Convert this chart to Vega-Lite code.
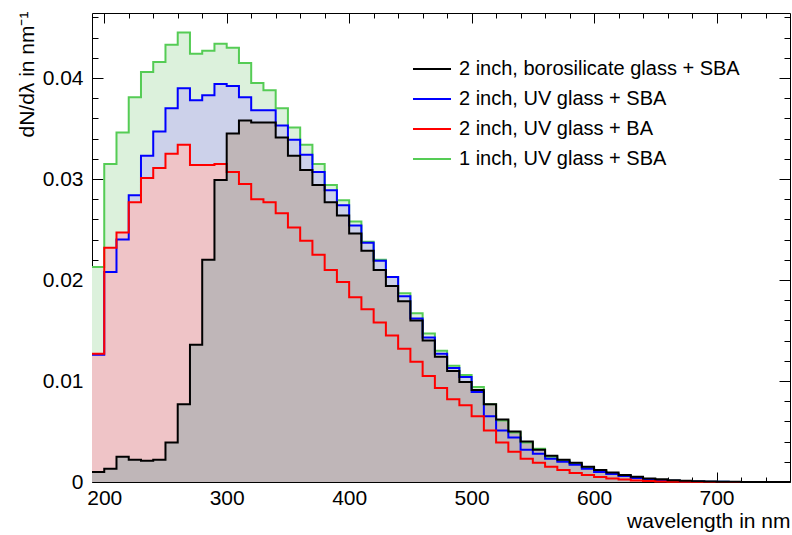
{
  "$schema": "https://vega.github.io/schema/vega-lite/v6.json",
  "width": 698,
  "height": 469,
  "autosize": {"type": "none"},
  "padding": {"left": 92, "top": 13, "right": 2, "bottom": 53},
  "background": "white",
  "config": {
    "view": {"stroke": "#000000", "strokeWidth": 1},
    "axis": {"grid": false, "domain": false, "labelFont": "Liberation Sans", "labelFontSize": 21, "labelColor": "#000000", "titleFont": "Liberation Sans", "titleFontSize": 21, "titleFontWeight": "normal", "titleColor": "#000000", "tickColor": "#000000", "tickWidth": 1}
  },
  "data": {"values": [
    {"x": 190, "k": 0.0010, "b": 0.0126, "r": 0.0127, "g": 0.0213},
    {"x": 200, "k": 0.0013, "b": 0.0208, "r": 0.0232, "g": 0.0315},
    {"x": 210, "k": 0.0025, "b": 0.0240, "r": 0.0247, "g": 0.0346},
    {"x": 220, "k": 0.0022, "b": 0.0284, "r": 0.0277, "g": 0.0381},
    {"x": 230, "k": 0.0021, "b": 0.0323, "r": 0.0301, "g": 0.0406},
    {"x": 240, "k": 0.0022, "b": 0.0347, "r": 0.0311, "g": 0.0416},
    {"x": 250, "k": 0.0039, "b": 0.0370, "r": 0.0325, "g": 0.0433},
    {"x": 260, "k": 0.0077, "b": 0.0390, "r": 0.0334, "g": 0.0445},
    {"x": 270, "k": 0.0136, "b": 0.0378, "r": 0.0314, "g": 0.0424},
    {"x": 280, "k": 0.0220, "b": 0.0383, "r": 0.0314, "g": 0.0427},
    {"x": 290, "k": 0.0299, "b": 0.0394, "r": 0.0315, "g": 0.0434},
    {"x": 300, "k": 0.0345, "b": 0.0392, "r": 0.0307, "g": 0.0430},
    {"x": 310, "k": 0.0358, "b": 0.0381, "r": 0.0295, "g": 0.0415},
    {"x": 320, "k": 0.0356, "b": 0.0368, "r": 0.0280, "g": 0.0395},
    {"x": 330, "k": 0.0356, "b": 0.0368, "r": 0.0277, "g": 0.0388},
    {"x": 340, "k": 0.0341, "b": 0.0353, "r": 0.0266, "g": 0.0370},
    {"x": 350, "k": 0.0323, "b": 0.0339, "r": 0.0252, "g": 0.0351},
    {"x": 360, "k": 0.0309, "b": 0.0324, "r": 0.0239, "g": 0.0334},
    {"x": 370, "k": 0.0294, "b": 0.0307, "r": 0.0225, "g": 0.0315},
    {"x": 380, "k": 0.0277, "b": 0.0289, "r": 0.0210, "g": 0.0294},
    {"x": 390, "k": 0.0264, "b": 0.0274, "r": 0.0198, "g": 0.0279},
    {"x": 400, "k": 0.0246, "b": 0.0254, "r": 0.0183, "g": 0.0258},
    {"x": 410, "k": 0.0229, "b": 0.0237, "r": 0.0171, "g": 0.0238},
    {"x": 420, "k": 0.0210, "b": 0.0219, "r": 0.0158, "g": 0.0220},
    {"x": 430, "k": 0.0194, "b": 0.0203, "r": 0.0145, "g": 0.0203},
    {"x": 440, "k": 0.0179, "b": 0.0184, "r": 0.0132, "g": 0.0187},
    {"x": 450, "k": 0.0160, "b": 0.0162, "r": 0.0119, "g": 0.0167},
    {"x": 460, "k": 0.0140, "b": 0.0143, "r": 0.0105, "g": 0.0147},
    {"x": 470, "k": 0.0124, "b": 0.0127, "r": 0.0093, "g": 0.0130},
    {"x": 480, "k": 0.0110, "b": 0.0113, "r": 0.0082, "g": 0.0115},
    {"x": 490, "k": 0.0099, "b": 0.0104, "r": 0.0076, "g": 0.0106},
    {"x": 500, "k": 0.0091, "b": 0.0089, "r": 0.0065, "g": 0.0094},
    {"x": 510, "k": 0.0077, "b": 0.0065, "r": 0.0051, "g": 0.0077},
    {"x": 520, "k": 0.0062, "b": 0.0051, "r": 0.0039, "g": 0.0061},
    {"x": 530, "k": 0.0050, "b": 0.0044, "r": 0.0030, "g": 0.0049},
    {"x": 540, "k": 0.0040, "b": 0.0032, "r": 0.0023, "g": 0.0039},
    {"x": 550, "k": 0.0032, "b": 0.0028, "r": 0.0019, "g": 0.0033},
    {"x": 560, "k": 0.0026, "b": 0.0023, "r": 0.0015, "g": 0.0025},
    {"x": 570, "k": 0.0022, "b": 0.0020, "r": 0.0012, "g": 0.0021},
    {"x": 580, "k": 0.0019, "b": 0.0017, "r": 0.0009, "g": 0.0018},
    {"x": 590, "k": 0.0015, "b": 0.0013, "r": 0.0007, "g": 0.0014},
    {"x": 600, "k": 0.0012, "b": 0.0010, "r": 0.0005, "g": 0.0011},
    {"x": 610, "k": 0.00095, "b": 0.0008, "r": 0.00035, "g": 0.00085},
    {"x": 620, "k": 0.0007, "b": 0.0006, "r": 0.00025, "g": 0.00063},
    {"x": 630, "k": 0.00052, "b": 0.0004, "r": 0.00015, "g": 0.00043},
    {"x": 640, "k": 0.00035, "b": 0.00027, "r": 0.0001, "g": 0.0003},
    {"x": 650, "k": 0.00026, "b": 0.00018, "r": 0.00006, "g": 0.0002},
    {"x": 660, "k": 0.00018, "b": 0.00012, "r": 0.00003, "g": 0.00013},
    {"x": 670, "k": 0.00012, "b": 0.00008, "r": 0.00002, "g": 0.00009},
    {"x": 680, "k": 0.00008, "b": 0.00005, "r": 0.00001, "g": 0.00006},
    {"x": 690, "k": 0.00005, "b": 0.00003, "r": 0.00001, "g": 0.00003},
    {"x": 700, "k": 0.00003, "b": 0.00002, "r": 0, "g": 0.00002},
    {"x": 710, "k": 0.00002, "b": 0.00001, "r": 0, "g": 0.00001},
    {"x": 720, "k": 0.00001, "b": 0.00001, "r": 0, "g": 0.00001},
    {"x": 730, "k": 0.00001, "b": 0, "r": 0, "g": 0},
    {"x": 740, "k": 0, "b": 0, "r": 0, "g": 0},
    {"x": 750, "k": 0, "b": 0, "r": 0, "g": 0},
    {"x": 760, "k": 0, "b": 0, "r": 0, "g": 0}
  ]},
  "transform": [{"fold": ["g", "b", "r", "k"], "as": ["s", "v"]}],
  "resolve": {"axis": {"x": "independent", "y": "independent"}},
  "layer": [
    {
      "transform": [{"filter": "datum.s == 'g'"}],
      "mark": {"type": "area", "interpolate": "step-after", "color": "#dcf1dc"},
      "encoding": {
        "x": {"field": "x", "type": "quantitative", "scale": {"domain": [190, 760], "nice": false, "zero": false},
          "axis": {"orient": "bottom", "values": [200, 300, 400, 500, 600, 700], "ticks": false, "labelPadding": 5, "labelFlush": false, "labelOverlap": false,
            "title": "wavelength in nm", "titleX": 698, "titleY": 45, "titleAlign": "right", "titleAnchor": "end", "titleBaseline": "alphabetic", "titleAngle": 0}},
        "y": {"field": "v", "type": "quantitative", "scale": {"domain": [0, 0.04644], "nice": false},
          "axis": {"orient": "left", "values": [0, 0.01, 0.02, 0.03, 0.04], "format": "~g", "ticks": false, "labelPadding": 9, "labelFlush": false, "labelOverlap": false,
            "title": "dN/dλ in nm⁻¹", "titleX": -59, "titleY": -2, "titleAngle": 270, "titleAlign": "right", "titleAnchor": "end", "titleBaseline": "alphabetic"}}
      }
    },
    {
      "transform": [{"filter": "datum.s == 'b'"}],
      "mark": {"type": "area", "interpolate": "step-after", "color": "#ccd1ea"},
      "encoding": {
        "x": {"field": "x", "type": "quantitative", "scale": {"domain": [190, 760], "nice": false, "zero": false},
          "axis": {"orient": "bottom", "values": [200, 300, 400, 500, 600, 700], "labels": false, "tickSize": -10, "title": null}},
        "y": {"field": "v", "type": "quantitative", "scale": {"domain": [0, 0.04644], "nice": false},
          "axis": {"orient": "left", "values": [0, 0.01, 0.02, 0.03, 0.04], "labels": false, "tickSize": -11, "title": null}}
      }
    },
    {
      "transform": [{"filter": "datum.s == 'r'"}],
      "mark": {"type": "area", "interpolate": "step-after", "color": "#efc4c7"},
      "encoding": {
        "x": {"field": "x", "type": "quantitative", "scale": {"domain": [190, 760], "nice": false, "zero": false},
          "axis": {"orient": "bottom", "values": [220, 240, 260, 280, 320, 340, 360, 380, 420, 440, 460, 480, 520, 540, 560, 580, 620, 640, 660, 680, 720, 740], "labels": false, "tickSize": -5, "title": null}},
        "y": {"field": "v", "type": "quantitative", "scale": {"domain": [0, 0.04644], "nice": false},
          "axis": {"orient": "left", "values": [0.002, 0.004, 0.006, 0.008, 0.012, 0.014, 0.016, 0.018, 0.022, 0.024, 0.026, 0.028, 0.032, 0.034, 0.036, 0.038, 0.042, 0.044, 0.046], "labels": false, "tickSize": -6, "title": null}}
      }
    },
    {
      "transform": [{"filter": "datum.s == 'k'"}],
      "mark": {"type": "area", "interpolate": "step-after", "color": "#bfb6b8"},
      "encoding": {
        "x": {"field": "x", "type": "quantitative", "scale": {"domain": [190, 760], "nice": false, "zero": false},
          "axis": {"orient": "top", "values": [200, 300, 400, 500, 600, 700], "labels": false, "tickSize": -10, "title": null}},
        "y": {"field": "v", "type": "quantitative", "scale": {"domain": [0, 0.04644], "nice": false},
          "axis": {"orient": "right", "values": [0, 0.01, 0.02, 0.03, 0.04], "labels": false, "tickSize": -11, "title": null}}
      }
    },
    {
      "mark": {"type": "line", "interpolate": "step-after", "strokeWidth": 2, "strokeJoin": "miter"},
      "encoding": {
        "x": {"field": "x", "type": "quantitative", "scale": {"domain": [190, 760], "nice": false, "zero": false},
          "axis": {"orient": "top", "values": [220, 240, 260, 280, 320, 340, 360, 380, 420, 440, 460, 480, 520, 540, 560, 580, 620, 640, 660, 680, 720, 740], "labels": false, "tickSize": -5, "title": null}},
        "y": {"field": "v", "type": "quantitative", "scale": {"domain": [0, 0.04644], "nice": false},
          "axis": {"orient": "right", "values": [0.002, 0.004, 0.006, 0.008, 0.012, 0.014, 0.016, 0.018, 0.022, 0.024, 0.026, 0.028, 0.032, 0.034, 0.036, 0.038, 0.042, 0.044, 0.046], "labels": false, "tickSize": -6, "title": null}},
        "color": {"field": "s", "type": "nominal",
          "scale": {"domain": ["k", "b", "r", "g"], "range": ["#000000", "#0000ff", "#ff0000", "#55cc55"]},
          "legend": {"orient": "none", "legendX": 320, "legendY": 36, "title": null, "symbolType": "stroke", "symbolSize": 1444, "symbolStrokeWidth": 2,
            "labelFont": "Liberation Sans", "labelFontSize": 20, "labelColor": "#000000", "labelOffset": 7, "labelLimit": 0, "rowPadding": -6, "padding": 0,
            "labelExpr": "datum.label == 'k' ? '2 inch, borosilicate glass + SBA' : datum.label == 'b' ? '2 inch, UV glass + SBA' : datum.label == 'r' ? '2 inch, UV glass + BA' : '1 inch, UV glass + SBA'"}}
      }
    }
  ]
}
